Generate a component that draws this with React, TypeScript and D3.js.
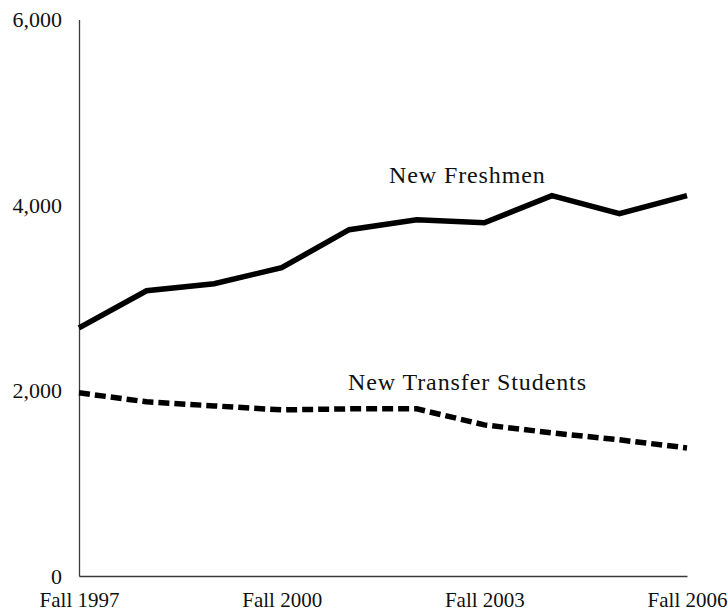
import React, { useEffect, useRef } from 'react'
import * as d3 from 'd3'

// fall terms, one per year
const terms = [
  'Fall 1997', 'Fall 1998', 'Fall 1999', 'Fall 2000', 'Fall 2001',
  'Fall 2002', 'Fall 2003', 'Fall 2004', 'Fall 2005', 'Fall 2006',
]
const shownTerms = ['Fall 1997', 'Fall 2000', 'Fall 2003', 'Fall 2006']

const freshmen = [2676, 3075, 3151, 3324, 3734, 3842, 3809, 4101, 3906, 4101]
const transfers = [1975, 1878, 1834, 1791, 1802, 1802, 1629, 1543, 1468, 1381]

const yTicks = [0, 2000, 4000, 6000]

const FONT = '"Liberation Serif", "Times New Roman", serif'

const App = () => {
  const ref = useRef<SVGSVGElement>(null)
  const width = 728,
    height = 614

  useEffect(() => {
    const svg = d3.select(ref.current)
    svg.selectAll('*').remove()

    const x = d3.scalePoint<string>().domain(terms).range([79, 687])
    const y = d3.scaleLinear().domain([0, 6000]).range([576, 19.5])

    // y axis, no tick marks, just the line and labels
    const yAxis = svg
      .append('g')
      .attr('transform', 'translate(79,0)')
      .call(
        d3
          .axisLeft(y)
          .tickValues(yTicks)
          .tickSize(0)
          .tickPadding(17)
          .tickFormat(d3.format(','))
      )
    yAxis.select('.domain').attr('stroke', '#3a3a3a').attr('stroke-width', 1.3)
    yAxis
      .selectAll('text')
      .attr('font-family', FONT)
      .attr('font-size', 22)
      .attr('fill', '#111')

    const xAxis = svg
      .append('g')
      .attr('transform', 'translate(0,576)')
      .call(d3.axisBottom(x).tickValues(shownTerms).tickSize(0).tickPadding(16))
    xAxis.select('.domain').attr('stroke', '#3a3a3a').attr('stroke-width', 1.3)
    xAxis
      .selectAll('text')
      .attr('font-family', FONT)
      .attr('font-size', 21)
      .attr('fill', '#111')

    const line = d3
      .line<number>()
      .x((d, i) => x(terms[i]) as number)
      .y(d => y(d))

    svg
      .append('path')
      .datum(freshmen)
      .attr('fill', 'none')
      .attr('stroke', '#000')
      .attr('stroke-width', 5.5)
      .attr('stroke-linejoin', 'miter')
      .attr('d', line)

    svg
      .append('path')
      .datum(transfers)
      .attr('fill', 'none')
      .attr('stroke', '#000')
      .attr('stroke-width', 5.5)
      .attr('stroke-dasharray', '11,5')
      .attr('d', line)

    // series labels
    svg
      .append('text')
      .attr('x', 389)
      .attr('y', 183)
      .attr('font-family', FONT)
      .attr('font-size', 24)
      .attr('letter-spacing', 0.9)
      .attr('fill', '#111')
      .text('New Freshmen')

    svg
      .append('text')
      .attr('x', 348)
      .attr('y', 390)
      .attr('font-family', FONT)
      .attr('font-size', 24)
      .attr('letter-spacing', 0.9)
      .attr('fill', '#111')
      .text('New Transfer Students')
  }, [])

  return (
    <svg
      ref={ref}
      width={width}
      height={height}
      style={{ position: 'absolute', left: 0, top: 0, background: '#fff' }}
    ></svg>
  )
}

export default App
